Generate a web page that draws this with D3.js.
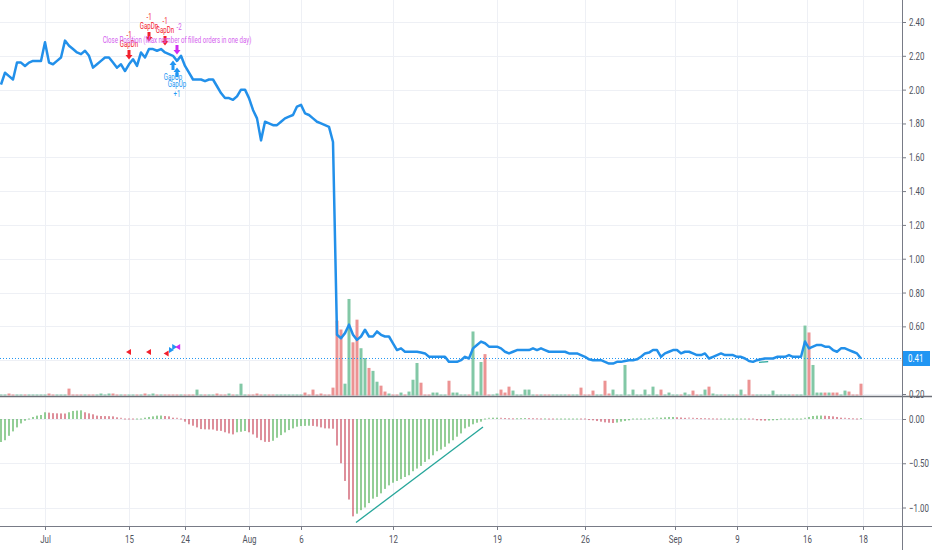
<!DOCTYPE html>
<html>
<head>
<meta charset="UTF-8">
<script src="https://d3js.org/d3.v7.min.js"></script>
<style>
    body {
        margin: 0;
        background: #fff;
        font-family: Roboto, "Liberation Sans", Arial, sans-serif;
    }
</style>
</head>
<body>
<svg id="chart" width="932" height="550"></svg>
<script>
// closing prices, one per bar
const closes = [
    2.03, 2.10, 2.08, 2.06, 2.16, 2.16, 2.14, 2.16, 2.17, 2.17, 2.17, 2.28,
    2.16, 2.15, 2.17, 2.19, 2.29, 2.26, 2.24, 2.22, 2.21, 2.23, 2.20, 2.13,
    2.15, 2.17, 2.19, 2.19, 2.16, 2.13, 2.15, 2.11, 2.15, 2.18, 2.14, 2.22,
    2.19, 2.24, 2.24, 2.23, 2.24, 2.22, 2.21, 2.20, 2.17, 2.20, 2.14, 2.10,
    2.06, 2.06, 2.06, 2.05, 2.06, 2.06, 2.02, 1.98, 1.95, 1.95, 1.94, 1.96,
    2.00, 2.00, 1.95, 1.88, 1.83, 1.70, 1.81, 1.80, 1.79, 1.79, 1.81, 1.83,
    1.84, 1.85, 1.90, 1.91, 1.86, 1.85, 1.83, 1.81, 1.80, 1.79, 1.78, 1.69,
    0.55, 0.53, 0.56, 0.61, 0.55, 0.52, 0.54, 0.58, 0.54, 0.54, 0.57, 0.55,
    0.54, 0.54, 0.50, 0.46, 0.47, 0.45, 0.45, 0.45, 0.45, 0.445, 0.44, 0.42,
    0.42, 0.42, 0.42, 0.42, 0.39, 0.39, 0.39, 0.40, 0.42, 0.41, 0.47, 0.49,
    0.51, 0.50, 0.48, 0.48, 0.48, 0.47, 0.45, 0.44, 0.45, 0.46, 0.46, 0.46,
    0.46, 0.47, 0.46, 0.47, 0.46, 0.45, 0.45, 0.45, 0.45, 0.45, 0.44, 0.44,
    0.44, 0.43, 0.42, 0.405, 0.40, 0.40, 0.40, 0.39, 0.38, 0.38, 0.39, 0.39,
    0.395, 0.40, 0.40, 0.405, 0.42, 0.44, 0.445, 0.46, 0.46, 0.42, 0.44, 0.45,
    0.46, 0.46, 0.44, 0.45, 0.45, 0.44, 0.43, 0.43, 0.44, 0.41, 0.42, 0.43,
    0.44, 0.43, 0.43, 0.43, 0.42, 0.42, 0.41, 0.395, 0.39, 0.40, 0.405, 0.41,
    0.41, 0.41, 0.42, 0.42, 0.42, 0.43, 0.42, 0.42, 0.42, 0.51, 0.47, 0.48,
    0.49, 0.49, 0.48, 0.48, 0.46, 0.45, 0.47, 0.47, 0.46, 0.45, 0.44, 0.41
];

// volume (relative units)
const volumes = [
    1, 1, 2, 1, 1, 1, 1, 1, 1, 1, 1, 1,
    2, 1, 1, 1, 1, 7, 1, 1, 1, 1, 1, 1,
    1, 2, 1, 2, 2, 1, 1, 1, 1, 1, 1, 1,
    2, 1, 2, 1, 1, 1, 1, 1, 1, 1, 1, 1,
    1, 6, 1, 1, 1, 1, 2, 1, 1, 2, 1, 1,
    12, 1, 1, 1, 2, 1, 1, 1, 1, 1, 1, 1,
    1, 1, 1, 1, 3, 1, 6, 1, 2, 1, 1, 8,
    76, 67, 12, 98, 54, 77, 48, 38, 28, 25, 14, 10,
    4, 2, 1, 1, 3, 1, 4, 16, 33, 13, 1, 1,
    3, 3, 1, 1, 15, 3, 3, 1, 1, 1, 65, 4,
    34, 42, 1, 1, 2, 6, 3, 9, 5, 1, 1, 6,
    6, 1, 1, 1, 1, 1, 1, 1, 1, 1, 1, 1,
    1, 8, 1, 1, 5, 1, 1, 15, 2, 6, 1, 1,
    31, 1, 6, 1, 1, 6, 1, 9, 1, 6, 1, 3,
    1, 1, 1, 3, 1, 5, 1, 1, 6, 9, 2, 1,
    1, 1, 1, 1, 1, 6, 1, 16, 1, 1, 1, 1,
    1, 5, 1, 1, 1, 1, 1, 1, 1, 71, 64, 31,
    3, 3, 3, 3, 3, 3, 1, 5, 4, 1, 1, 12
];

// MACD histogram
const macdHist = [
    -0.26, -0.24, -0.19, -0.14, -0.095, -0.05, -0.02, -0.004, 0.023, 0.038, 0.045, 0.076,
    0.072, 0.066, 0.064, 0.063, 0.062, 0.076, 0.091, 0.095, 0.098, 0.076, 0.064, 0.053,
    0.038, 0.034, 0.033, 0.032, 0.03, 0.019, 0.008, -0.004, -0.008, -0.011, -0.003, 0.0,
    0.015, 0.023, 0.03, 0.038, 0.039, 0.034, 0.03, 0.015, 0.008, 0.0, -0.03, -0.06,
    -0.076, -0.095, -0.114, -0.117, -0.118, -0.119, -0.133, -0.134, -0.15, -0.163, -0.174, -0.15,
    -0.144, -0.136, -0.15, -0.174, -0.212, -0.239, -0.258, -0.259, -0.246, -0.212, -0.182, -0.152,
    -0.125, -0.106, -0.087, -0.08, -0.078, -0.076, -0.078, -0.085, -0.095, -0.106, -0.107, -0.11,
    -0.30, -0.50, -0.70, -0.91, -1.10, -1.07, -1.03, -1.00, -0.95, -0.90, -0.88, -0.84,
    -0.79, -0.75, -0.72, -0.70, -0.68, -0.655, -0.636, -0.59, -0.56, -0.53, -0.485, -0.455,
    -0.41, -0.364, -0.345, -0.314, -0.276, -0.24, -0.20, -0.163, -0.106, -0.087, -0.06, -0.042,
    -0.03, -0.004, 0.008, 0.015, 0.015, 0.008, 0.005, 0.003, 0.002, 0.003, 0.004, 0.005,
    0.004, 0.003, 0.002, 0.001, 0.001, 0.0, -0.001, -0.001, 0.0, 0.0, 0.0, 0.0,
    0.0, -0.008, -0.01, -0.012, -0.015, -0.023, -0.03, -0.038, -0.042, -0.045, -0.04, -0.03,
    -0.023, -0.015, -0.01, -0.008, -0.005, -0.002, 0.002, 0.008, 0.011, 0.015, 0.019, 0.023,
    0.023, 0.02, 0.017, 0.013, 0.01, 0.008, 0.006, 0.004, 0.003, 0.002, 0.001, 0.0,
    0.0, 0.0, 0.0, 0.0, 0.0, 0.0, 0.0, -0.008, -0.011, -0.015, -0.017, -0.019,
    -0.017, -0.015, -0.013, -0.011, -0.009, -0.007, -0.005, -0.003, -0.001, 0.008, 0.023, 0.034,
    0.038, 0.039, 0.037, 0.034, 0.03, 0.023, 0.015, 0.008, 0.004, 0.002, 0.0, 0.004
];

// axis ticks
const dateTicks = [11, 32, 46, 62, 75, 98, 124, 146, 168.5, 184, 201.5, 215.5];
const dateLabels = ["Jul", "15", "24", "Aug", "6", "12", "19", "26", "Sep", "9", "16", "18"];
const priceTicks = [0.2, 0.4, 0.6, 0.8, 1.0, 1.2, 1.4, 1.6, 1.8, 2.0, 2.2, 2.4];
const macdTicks = [0, -0.5, -1.0];
const lastPrice = 0.41;

// strategy signals (bar index, price of the arrow)
const signalIdx = [32, 37, 41, 44, 43, 44];
const signalPrice = [2.205, 2.311, 2.288, 2.234, 2.146, 2.104];
const signalType = ["GapDn", "GapDn", "GapDn", "Close", "GapUp", "GapUp"];
const signalQty = ["-1", "-1", "-1", "-2", "", "+1"];
const closeLabel = "Close Position (Max number of filled orders in one day)";

// small order flags
const flagIdx = [32, 37, 41.4, 42.5, 43.3, 44.3];
const flagPrice = [0.448, 0.448, 0.44, 0.46, 0.478, 0.478];
const flagType = ["GapDn", "GapDn", "GapDn", "GapUp", "GapUp", "Close"];

// drawn trend lines [index, value]
const macdTrend = [[88.75, -1.17], [120.5, -0.09]];
const priceTrend = [[189.5, 0.387], [191.8, 0.392]];

const W = 932, H = 550, plotR = 902, axisY = 526;
const colors = { GapDn: "#f3202c", GapUp: "#2196f3", Close: "#cf2cf0" };

const svg = d3.select("#chart");

const x = d3.scaleLinear().domain([0, closes.length - 1]).range([1, 861]);
const yP = d3.scaleLinear().domain([0.2, 2.4]).range([394, 22]);
const yV = d3.scaleLinear().domain([0, 100]).range([395.5, 297]);
const yM = d3.scaleLinear().domain([-1, 0]).range([507.5, 419]);

// glyphs in the picture are narrow, squeeze them horizontally
function squeeze(sel, k) {
    sel.each(function() {
        const t = d3.select(this);
        const tx = +t.attr("x") || 0, ty = +t.attr("y") || 0;
        t.attr("x", 0).attr("y", 0)
            .attr("transform", `translate(${tx},${ty}) scale(${k},1)`);
    });
}

// grid
const grid = svg.append("g").attr("stroke", "#eef0f5").attr("stroke-width", 1);
grid.selectAll(".gp").data(priceTicks).join("line")
    .attr("x1", 0).attr("x2", plotR)
    .attr("y1", d => Math.round(yP(d)) + 0.5).attr("y2", d => Math.round(yP(d)) + 0.5);
grid.selectAll(".gm").data(macdTicks).join("line")
    .attr("x1", 0).attr("x2", plotR)
    .attr("y1", d => Math.round(yM(d)) + 0.5).attr("y2", d => Math.round(yM(d)) + 0.5);
grid.selectAll(".gx").data(dateTicks).join("line")
    .attr("x1", d => Math.round(x(d)) + 0.5).attr("x2", d => Math.round(x(d)) + 0.5)
    .attr("y1", 0).attr("y2", axisY);

// volume
svg.append("g").selectAll("rect").data(volumes).join("rect")
    .attr("x", (d, i) => x(i) - 1.5)
    .attr("width", 3)
    .attr("y", d => yV(d))
    .attr("height", d => yV(0) - yV(d))
    .attr("fill", (d, i) => (i === 0 || closes[i] >= closes[i - 1]) ? "#82c8a6" : "#ec9393");

// last price dotted line
svg.append("line")
    .attr("x1", 0).attr("x2", plotR)
    .attr("y1", yP(lastPrice)).attr("y2", yP(lastPrice))
    .attr("stroke", "#2196f3").attr("stroke-width", 1)
    .attr("stroke-dasharray", "1,2");

// price line
svg.append("path")
    .datum(closes)
    .attr("fill", "none")
    .attr("stroke", "#2290ea")
    .attr("stroke-width", 2.5)
    .attr("stroke-linejoin", "round")
    .attr("d", d3.line().x((d, i) => x(i)).y(d => yP(d)));

svg.append("line")
    .attr("x1", x(priceTrend[0][0])).attr("y1", yP(priceTrend[0][1]))
    .attr("x2", x(priceTrend[1][0])).attr("y2", yP(priceTrend[1][1]))
    .attr("stroke", "#26a69a").attr("stroke-width", 1.2);

// order flags
svg.append("g").selectAll("path").data(flagIdx).join("path")
    .attr("transform", (d, i) => `translate(${x(d)},${yP(flagPrice[i])})`)
    .attr("d", (d, i) => flagType[i] === "GapUp" ? "M3,0L-2,-3L-2,3Z" : "M-3,0L2,-3L2,3Z")
    .attr("fill", (d, i) => colors[flagType[i]]);

// MACD histogram
svg.append("g").selectAll("rect").data(macdHist).join("rect")
    .attr("x", (d, i) => x(i) - 0.6)
    .attr("width", 1.2)
    .attr("y", d => Math.min(yM(d), yM(0)) - (Math.abs(yM(d) - yM(0)) < 1 ? 0.5 : 0))
    .attr("height", d => Math.max(1, Math.abs(yM(d) - yM(0))))
    .attr("fill", (d, i) => (i === 0 || d >= macdHist[i - 1]) ? "#4cae52" : "#c8475a");

svg.append("line")
    .attr("x1", x(macdTrend[0][0])).attr("y1", yM(macdTrend[0][1]))
    .attr("x2", x(macdTrend[1][0])).attr("y2", yM(macdTrend[1][1]))
    .attr("stroke", "#26a69a").attr("stroke-width", 1.3);

// signal arrows and labels
const sig = svg.append("g");
signalIdx.forEach((idx, i) => {
    const cx = x(idx), cy = yP(signalPrice[i]);
    const type = signalType[i];
    const col = colors[type];
    const down = type !== "GapUp";
    const arrow = down
        ? "M-1.5,-5L1.5,-5L1.5,0L3.5,0L0,4.5L-3.5,0L-1.5,0Z"
        : "M-1.5,5L1.5,5L1.5,0L3.5,0L0,-4.5L-3.5,0L-1.5,0Z";
    sig.append("path").attr("transform", `translate(${cx},${cy})`)
        .attr("d", arrow).attr("fill", col);
    const lab = [];
    if (type === "GapDn") {
        lab.push({ t: "GapDn", y: cy - 11, dx: 0 });
        lab.push({ t: signalQty[i], y: cy - 20, dx: 0 });
    } else if (type === "Close") {
        lab.push({ t: closeLabel, y: cy - 10, dx: 0 });
        lab.push({ t: signalQty[i], y: cy - 23, dx: 2 });
    } else {
        lab.push({ t: "GapUp", y: cy + 12, dx: 0 });
        if (signalQty[i]) lab.push({ t: signalQty[i], y: cy + 22, dx: 0 });
    }
    lab.forEach(l => {
        sig.append("text")
            .attr("x", cx + l.dx).attr("y", l.y)
            .attr("dy", "0.35em")
            .attr("text-anchor", "middle")
            .style("font-size", "9px")
            .attr("fill", type === "Close" ? "#d460ee" : col)
            .text(l.t)
            .call(squeeze, 0.68);
    });
});

// axes; the last-price label hides any tick label it covers
const ly = yP(lastPrice);
const priceLabelTicks = priceTicks.filter(d => Math.abs(yP(d) - ly) > 12);
const axP = svg.append("g")
    .attr("transform", `translate(${plotR},0)`)
    .call(d3.axisRight(yP).tickValues(priceLabelTicks).tickFormat(d3.format(".2f")).tickSize(4).tickPadding(3));
const axM = svg.append("g")
    .attr("transform", `translate(${plotR},0)`)
    .call(d3.axisRight(yM).tickValues(macdTicks).tickFormat(d3.format(".2f")).tickSize(4).tickPadding(3));
const axX = svg.append("g")
    .attr("transform", `translate(0,${axisY})`)
    .call(d3.axisBottom(x).tickValues(dateTicks).tickFormat((d, i) => dateLabels[i]).tickSize(4).tickPadding(5));

[axP, axM, axX].forEach(a => {
    a.select(".domain").remove();
    a.selectAll("line").attr("stroke", "#787b86");
    a.selectAll("text")
        .attr("fill", "#4f535e")
        .style("font-size", "11px")
        .style("font-family", "Roboto, 'Liberation Sans', Arial, sans-serif")
        .call(squeeze, 0.72);
});

// pane separator and axis lines
svg.append("line").attr("x1", 0).attr("x2", W).attr("y1", 396.5).attr("y2", 396.5)
    .attr("stroke", "#6c7079").attr("stroke-width", 1.5);
svg.append("line").attr("x1", 0).attr("x2", W).attr("y1", axisY + 0.5).attr("y2", axisY + 0.5)
    .attr("stroke", "#787b86");
svg.append("line").attr("x1", plotR + 0.5).attr("x2", plotR + 0.5).attr("y1", 0).attr("y2", H)
    .attr("stroke", "#787b86");

// last price label
svg.append("rect")
    .attr("x", plotR + 1).attr("y", ly - 7.5)
    .attr("width", 27).attr("height", 15)
    .attr("fill", "#2196f3");
svg.append("text")
    .attr("x", plotR + 6).attr("y", ly)
    .attr("dy", "0.35em")
    .attr("fill", "#fff")
    .style("font-size", "11px")
    .text(d3.format(".2f")(lastPrice))
    .call(squeeze, 0.72);
</script>
</body>
</html>
